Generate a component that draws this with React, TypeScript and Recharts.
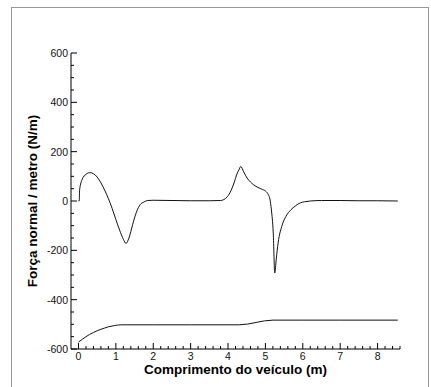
import React from 'react';
import { LineChart, Line, XAxis, YAxis, Label } from 'recharts';

// Força normal / metro (N/m) along the vehicle
const forceX = [0, 0.02, 0.03, 0.1, 0.2, 0.3, 0.4, 0.5, 0.6, 0.7, 0.8, 0.9, 1.0, 1.1, 1.2, 1.27, 1.35, 1.45, 1.55, 1.65, 1.75, 1.85, 2.0, 2.5, 3.0, 3.5, 3.8, 3.98, 4.08, 4.16, 4.24, 4.29, 4.34, 4.42, 4.51, 4.6, 4.69, 4.8, 4.92, 5.02, 5.08, 5.12, 5.16, 5.21, 5.25, 5.29, 5.34, 5.45, 5.55, 5.68, 5.8, 5.94, 6.05, 6.2, 6.5, 7.0, 7.5, 8.0, 8.54];
const forceY = [0, 0, 45, 88, 108, 115, 111, 97, 74, 44, 10, -30, -75, -118, -155, -172, -150, -95, -45, -15, -4, 2, 3, 2, 1, 1, 2, 17, 42, 73, 110, 126, 140, 118, 93, 77, 65, 55, 47, 38, 25, 8, -36, -130, -292, -235, -170, -97, -62, -36, -20, -7, -3, 0, 2, 2, 1, 1, 0];

// Lower curve
const lowerX = [0, 0.1, 0.2, 0.3, 0.4, 0.5, 0.6, 0.7, 0.8, 0.9, 1.0, 1.15, 2.0, 3.0, 4.0, 4.3, 5.2, 6.0, 7.0, 8.54];
const lowerY = [-572, -561, -550, -541, -533, -526, -520, -515, -510, -507, -504, -502, -502, -502, -502, -502, -483, -483, -483, -483];

const xMajorTicks = [0, 1, 2, 3, 4, 5, 6, 7, 8];
const yMajorTicks = [-600, -400, -200, 0, 200, 400, 600];

const xTicks: number[] = [];
for (let i = 0; i <= 43; i++) xTicks.push(Math.round(i * 0.2 * 10) / 10);
const yTicks: number[] = [];
for (let v = -600; v <= 600; v += 50) yTicks.push(v);

const forceData = forceX.map((x, i) => ({ x, y: forceY[i] }));
const lowerData = lowerX.map((x, i) => ({ x, y: lowerY[i] }));

const FONT = 'Arial, "Liberation Sans", Helvetica, sans-serif';

const XTick = (props: any) => {
  const { x, y, payload } = props;
  const v = payload.value;
  const major = xMajorTicks.some((m) => Math.abs(m - v) < 1e-6);
  return (
    <g>
      <line x1={x} y1={y} x2={x} y2={y - (major ? 6 : 3)} stroke="#000" strokeWidth={1} />
      {major && (
        <text x={x} y={y + 11} textAnchor="middle" fontFamily={FONT} fontSize={10.5} fill="#111">
          {v}
        </text>
      )}
    </g>
  );
};

const YTick = (props: any) => {
  const { x, y, payload } = props;
  const v = payload.value;
  const major = yMajorTicks.includes(v);
  return (
    <g>
      <line x1={x} y1={y} x2={x + (major ? 6 : 3)} y2={y} stroke="#000" strokeWidth={1} />
      {major && (
        <text x={x - 3} y={y + 4} textAnchor="end" fontFamily={FONT} fontSize={10.5} fill="#111">
          {v}
        </text>
      )}
    </g>
  );
};

const YLabel = (props: any) => {
  const vb = props.viewBox;
  const cx = vb.x + 32;
  const cy = vb.y + vb.height / 2;
  return (
    <text x={cx} y={cy} transform={`rotate(-90 ${cx} ${cy})`} textAnchor="middle" dominantBaseline="central" fontFamily={FONT} fontWeight="bold" fontSize={13.5} fill="#000">
      Força normal / metro (N/m)
    </text>
  );
};

const XLabel = (props: any) => {
  const vb = props.viewBox;
  const cx = vb.x + vb.width / 2;
  return (
    <text x={cx} y={vb.y + 25} textAnchor="middle" fontFamily={FONT} fontWeight="bold" fontSize={13.5} fill="#000">
      Comprimento do veículo (m)
    </text>
  );
};

export default function App() {
  return (
    <div style={{ position: 'absolute', left: 0, top: 0, width: 431, height: 387, background: '#fff', overflow: 'hidden' }}>
      <div style={{ position: 'absolute', left: 11, top: 7, width: 416, height: 400, border: '1px solid #999' }} />
      <div style={{ position: 'absolute', left: 0, top: 0 }}>
        <LineChart width={431} height={387} margin={{ top: 53, right: 31, bottom: 0, left: 0 }}>
          <XAxis
            type="number"
            dataKey="x"
            domain={[-0.2, 8.6]}
            ticks={xTicks}
            interval={0}
            tickSize={0}
            tickMargin={0}
            tickLine={false}
            tick={<XTick />}
            axisLine={{ stroke: '#000', strokeWidth: 1 }}
            height={38}
            allowDataOverflow
          >
            <Label content={<XLabel />} />
          </XAxis>
          <YAxis
            type="number"
            dataKey="y"
            domain={[-600, 600]}
            ticks={yTicks}
            interval={0}
            tickSize={0}
            tickMargin={0}
            tickLine={false}
            tick={<YTick />}
            axisLine={{ stroke: '#000', strokeWidth: 1 }}
            width={71}
            allowDataOverflow
          >
            <Label content={<YLabel />} />
          </YAxis>
          <Line data={forceData} dataKey="y" type="monotone" stroke="#111" strokeWidth={1} dot={false} isAnimationActive={false} />
          <Line data={lowerData} dataKey="y" type="monotone" stroke="#111" strokeWidth={1} dot={false} isAnimationActive={false} />
        </LineChart>
      </div>
    </div>
  );
}
